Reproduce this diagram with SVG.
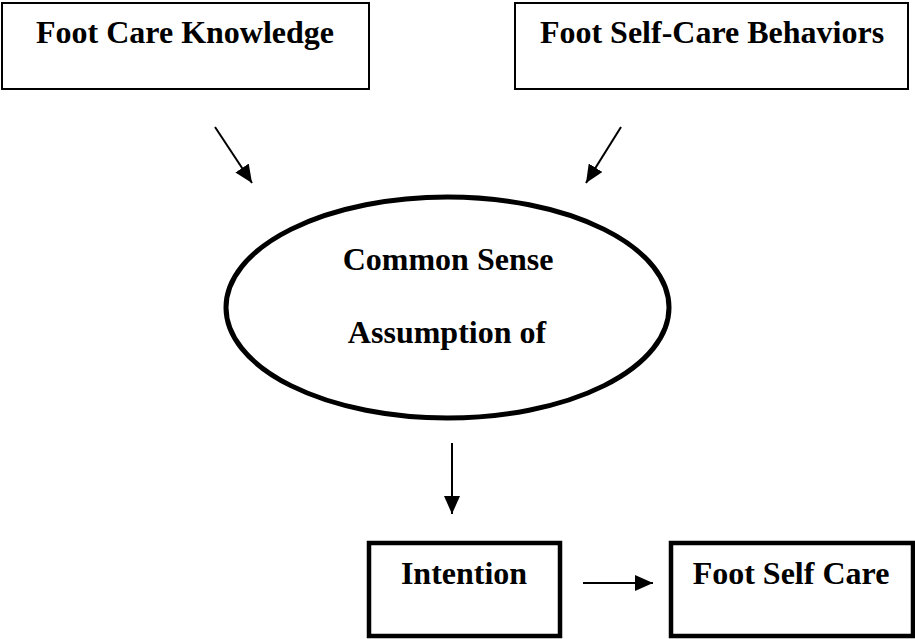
<svg xmlns="http://www.w3.org/2000/svg" width="915" height="639" viewBox="0 0 915 639">
<style>
.t{font-family:"Liberation Serif","Times New Roman",serif;font-weight:bold;font-size:32px;fill:#000;text-anchor:middle}
.thin{fill:#fff;stroke:#000;stroke-width:2}
.thick{fill:#fff;stroke:#000;stroke-width:4.5}
.c{stroke:#000;stroke-width:2;fill:none}
</style>
<defs>
<marker id="ah" viewBox="0 0 10 10" refX="10" refY="5" markerWidth="9" markerHeight="8" markerUnits="strokeWidth" orient="auto" preserveAspectRatio="none">
<path d="M0,0 L10,5 L0,10 Z" fill="#000"/>
</marker>
</defs>
<rect width="915" height="639" fill="#fff"/>
<g id="knowledge">
<rect class="thin" x="2" y="3" width="367" height="86"/>
<text class="t" x="185" y="43">Foot Care Knowledge</text>
</g>
<g id="behaviors">
<rect class="thin" x="515" y="3" width="393" height="86"/>
<text class="t" x="712" y="43">Foot Self-Care Behaviors</text>
</g>
<g id="assumption">
<ellipse cx="447.5" cy="307.5" rx="221.5" ry="110.5" fill="#fff" stroke="#000" stroke-width="5"/>
<text class="t" x="448" y="270">Common Sense</text>
<text class="t" x="447" y="343">Assumption of</text>
</g>
<g id="intention">
<rect class="thick" x="369" y="543" width="191" height="93"/>
<text class="t" x="464" y="584">Intention</text>
</g>
<g id="selfcare">
<rect class="thick" x="671" y="543" width="242" height="93"/>
<text class="t" x="791" y="584">Foot Self Care</text>
</g>
<g id="connectors">
<line class="c" x1="215" y1="127" x2="252" y2="183" marker-end="url(#ah)"/>
<line class="c" x1="621" y1="127" x2="586" y2="183" marker-end="url(#ah)"/>
<line class="c" x1="452" y1="443" x2="452" y2="514" marker-end="url(#ah)"/>
<line class="c" x1="583" y1="583" x2="653" y2="583" marker-end="url(#ah)"/>
</g>
</svg>
